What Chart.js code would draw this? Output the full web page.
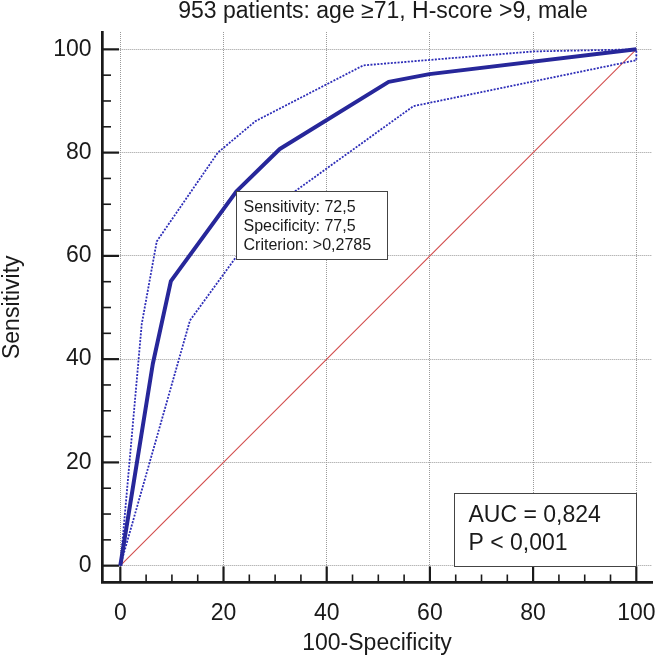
<!DOCTYPE html>
<html><head><meta charset="utf-8">
<script src="https://cdn.jsdelivr.net/npm/chart.js@4.4.0/dist/chart.umd.min.js"></script>
<style>html,body{margin:0;padding:0;background:#fff;}</style>
</head><body>
<canvas id="c" width="657" height="656"></canvas>
<script>
// ---- data ----
const rocX = [0, 6.3, 9.8, 22.5, 30.9, 52.0, 59.9, 100];
const rocY = [0, 39.1, 55.1, 72.5, 80.7, 93.7, 95.2, 100];
const upperX = [0, 4.15, 7.06, 18.9, 26.2, 47.1, 80.1, 100];
const upperY = [0, 46.8, 62.8, 80.0, 86.1, 96.9, 99.6, 100];
const lowerX = [0, 13.5, 22.3, 33.7, 56.8, 100, 100];
const lowerY = [0, 47.5, 59.6, 72.4, 89.0, 97.9, 100];
const refX = [0, 100];
const refY = [0, 100];
const criterionPoint = [22.5, 72.5];
const criterionLines = ['Sensitivity: 72,5', 'Specificity: 77,5', 'Criterion: >0,2785'];
const aucLines = ['AUC = 0,824', 'P < 0,001'];
const tickValues = [0,5,10,15,20,25,30,35,40,45,50,55,60,65,70,75,80,85,90,95,100];
const majorTicks = [0,20,40,60,80,100];
const titleText = '953 patients: age \u226571, H-score >9, male';
const xTitle = '100-Specificity';
const yTitle = 'Sensitivity';

const FONT = "'Liberation Sans', Arial, Helvetica, sans-serif";
const pts = (xs, ys) => xs.map((v, i) => ({x: v, y: ys[i]}));

const decor = {
  id: 'decor',
  afterLayout(chart) {
    if (chart.titleBlock) { chart.titleBlock.left += 6; chart.titleBlock.right += 6; }
  },
  beforeDatasetsDraw(chart) {
    const {ctx, chartArea: a, scales: {x, y}} = chart;
    ctx.save();
    ctx.strokeStyle = '#1a1a1a';
    tickValues.forEach(v => {
      const major = majorTicks.includes(v);
      ctx.lineWidth = major ? 2.2 : 1.6;
      const px = x.getPixelForValue(v);
      ctx.beginPath(); ctx.moveTo(px, a.bottom); ctx.lineTo(px, a.bottom - (major ? 16 : 8)); ctx.stroke();
      const py = y.getPixelForValue(v);
      ctx.beginPath(); ctx.moveTo(a.left, py); ctx.lineTo(a.left + (major ? 17 : 9), py); ctx.stroke();
    });
    ctx.restore();
  },
  afterDatasetsDraw(chart) {
    const {ctx, scales: {x, y}} = chart;
    ctx.save();
    // criterion box
    const bx = Math.round(x.getPixelForValue(criterionPoint[0])) + 0.5;
    const by = Math.round(y.getPixelForValue(criterionPoint[1])) + 0.5;
    ctx.fillStyle = '#fff'; ctx.strokeStyle = '#444'; ctx.lineWidth = 1;
    ctx.fillRect(bx, by, 151, 68); ctx.strokeRect(bx, by, 151, 68);
    ctx.fillStyle = '#1a1a1a'; ctx.font = '16px ' + FONT; ctx.textBaseline = 'middle'; ctx.textAlign = 'left';
    criterionLines.forEach((t, i) => ctx.fillText(t, bx + 7, by + 16 + i * 19));
    // AUC box
    const rx = Math.round(x.getPixelForValue(100)) + 0.5;
    const ry = Math.round(y.getPixelForValue(0)) + 0.5;
    const w = 182, h = 73;
    ctx.fillStyle = '#fff'; ctx.strokeStyle = '#444';
    ctx.fillRect(rx - w, ry - h, w, h); ctx.strokeRect(rx - w, ry - h, w, h);
    ctx.fillStyle = '#1a1a1a'; ctx.font = '23px ' + FONT;
    aucLines.forEach((t, i) => ctx.fillText(t, rx - w + 14, ry - 51 + i * 28.5));
    ctx.restore();
  }
};

const gridColor = ctx => (ctx.tick && majorTicks.includes(ctx.tick.value)) ? '#9a9a9a' : 'rgba(0,0,0,0)';

new Chart(document.getElementById('c'), {
  type: 'scatter',
  data: {
    datasets: [
      {data: pts(refX, refY), showLine: true, borderColor: '#d24c4c', borderWidth: 1.1, pointRadius: 0, order: 4},
      {data: pts(upperX, upperY), showLine: true, borderColor: '#2e2eb8', borderWidth: 1.8, borderDash: [2, 1.4], pointRadius: 0, order: 3},
      {data: pts(lowerX, lowerY), showLine: true, borderColor: '#2e2eb8', borderWidth: 1.8, borderDash: [2, 1.4], pointRadius: 0, order: 2},
      {data: pts(rocX, rocY), showLine: true, borderColor: '#27279a', borderWidth: 4, pointRadius: 0, order: 1, borderJoinStyle: 'round'}
    ]
  },
  options: {
    responsive: false,
    animation: false,
    devicePixelRatio: 1,
    layout: {padding: {left: 0, right: 5, top: 0, bottom: 0}},
    plugins: {
      legend: {display: false},
      tooltip: {enabled: false},
      title: {display: true, text: titleText, fullSize: false, color: '#1a1a1a',
              font: {family: FONT, size: 23, weight: 'normal', lineHeight: 1.0}, padding: {top: 0, bottom: 9}}
    },
    scales: {
      x: {
        type: 'linear', min: -3.55, max: 103.04,
        afterBuildTicks: s => { s.ticks = tickValues.map(v => ({value: v})); },
        afterFit: s => { s.height = 73.5; s.paddingLeft = 0; s.paddingRight = 0; },
        ticks: {autoSkip: false, maxRotation: 0, padding: 17, color: '#1a1a1a',
                font: {family: FONT, size: 23}, callback: v => majorTicks.includes(v) ? String(v) : ''},
        grid: {color: gridColor, lineWidth: 1, drawTicks: false},
        border: {display: true, color: '#1a1a1a', width: 2.7, dash: [1, 1]},
        title: {display: true, text: xTitle, color: '#1a1a1a', font: {family: FONT, size: 23, lineHeight: 1.1}, padding: {top: 0, bottom: 0}}
      },
      y: {
        type: 'linear', min: -3.26, max: 103.36,
        afterBuildTicks: s => { s.ticks = tickValues.map(v => ({value: v})); },
        afterFit: s => { s.width = 102; s.paddingTop = 0; s.paddingBottom = 0; },
        ticks: {autoSkip: false, padding: 10.5, color: '#1a1a1a',
                font: {family: FONT, size: 23}, callback: v => majorTicks.includes(v) ? String(v) : ''},
        grid: {color: gridColor, lineWidth: 1, drawTicks: false},
        border: {display: true, color: '#1a1a1a', width: 2.7, dash: [1, 1]},
        title: {display: true, text: yTitle, color: '#1a1a1a', font: {family: FONT, size: 23, lineHeight: 1.1}, padding: {top: 0, bottom: 0}}
      }
    }
  },
  plugins: [decor]
});
</script>
</body></html>
